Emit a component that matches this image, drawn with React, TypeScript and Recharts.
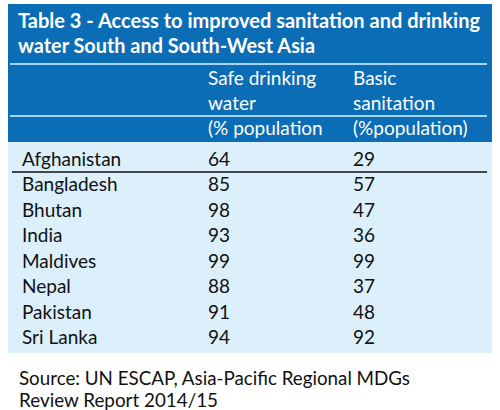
import { ScatterChart, Scatter, XAxis, YAxis, Customized } from 'recharts'

const countries = ['Afghanistan', 'Bangladesh', 'Bhutan', 'India', 'Maldives', 'Nepal', 'Pakistan', 'Sri Lanka']
const drinkingWater = [64, 85, 98, 93, 99, 88, 91, 94]
const basicSanitation = [29, 57, 47, 36, 99, 37, 48, 92]
const columnHeaders = [
  ['Safe drinking', 'water', '(% population'],
  ['Basic', 'sanitation', '(%population)'],
]
const titleLines = ['Table 3 - Access to improved sanitation and drinking', 'water South and South-West Asia']
const sourceLines = ['Source: UN ESCAP, Asia-Pacific Regional MDGs', 'Review Report 2014/15']

const FONT = 'Lato, "Open Sans", sans-serif'
const BLUE = '#0b6db5'
const PALE = '#dbf0fb'

const titleWidths = [462, 297]
const sourceWidths = [391, 199]

const waterData = countries.map((country, i) => ({ col: 0, country, value: drinkingWater[i] }))
const sanitationData = countries.map((country, i) => ({ col: 1, country, value: basicSanitation[i] }))

const CellText = (props: any) => (
  <text x={props.cx} y={props.cy} dy="0.36em" fontFamily={FONT} fontSize={19} fill="#111">
    {props.payload.value}
  </text>
)

const CountryTick = (props: any) => (
  <text x={22} y={props.y} dy="0.36em" fontFamily={FONT} fontSize={19} fill="#111">
    {props.payload.value}
  </text>
)

const HeaderTick = (props: any) => {
  const lines = columnHeaders[props.payload.value] || []
  return (
    <g>
      {lines.map((line, i) => (
        <text key={i} x={props.x} y={85 + i * 25} fontFamily={FONT} fontSize={19} fill="#fff">
          {line}
        </text>
      ))}
    </g>
  )
}

const Decor = () => (
  <g>
    {titleLines.map((line, i) => (
      <text
        key={i}
        x={18}
        y={28 + i * 25}
        fontFamily={FONT}
        fontWeight="bold"
        fontSize={20}
        fill="#fff"
        textLength={titleWidths[i]}
        lengthAdjust="spacingAndGlyphs"
      >
        {line}
      </text>
    ))}
    {sourceLines.map((line, i) => (
      <text
        key={i}
        x={19}
        y={385 + i * 22}
        fontFamily={FONT}
        fontSize={19.5}
        fill="#111"
        textLength={sourceWidths[i]}
        lengthAdjust="spacingAndGlyphs"
      >
        {line}
      </text>
    ))}
  </g>
)

export default function App() {
  return (
    <div style={{ position: 'absolute', left: 0, top: 0, width: 500, height: 410, background: '#fff' }}>
      <svg width={500} height={410} style={{ position: 'absolute', left: 0, top: 0 }}>
        <rect x={8} y={4} width={484} height={138} fill={BLUE} />
        <rect x={8} y={142} width={484} height={211} fill={PALE} />
        <line x1={10} x2={487} y1={64} y2={64} stroke="#a6d3f1" strokeWidth={2} />
        <line x1={10} x2={487} y1={116} y2={116} stroke="#a6d3f1" strokeWidth={2} />
        <line x1={12} x2={487} y1={172} y2={172} stroke="#111" strokeWidth={1.5} />
      </svg>
      <div style={{ position: 'absolute', left: 0, top: 0 }}>
        <ScatterChart width={500} height={410} margin={{ top: 56, right: 13, bottom: 60, left: 8 }}>
          <XAxis
            type="number"
            dataKey="col"
            orientation="top"
            domain={[0, 1.924]}
            ticks={[0, 1]}
            height={90}
            axisLine={false}
            tickLine={false}
            tick={HeaderTick}
          />
          <YAxis
            type="category"
            dataKey="country"
            width={200}
            reversed
            interval={0}
            allowDuplicatedCategory={false}
            axisLine={false}
            tickLine={false}
            tick={CountryTick}
          />
          <Scatter data={waterData} shape={CellText} isAnimationActive={false} />
          <Scatter data={sanitationData} shape={CellText} isAnimationActive={false} />
          <Customized component={Decor} />
        </ScatterChart>
      </div>
    </div>
  )
}
